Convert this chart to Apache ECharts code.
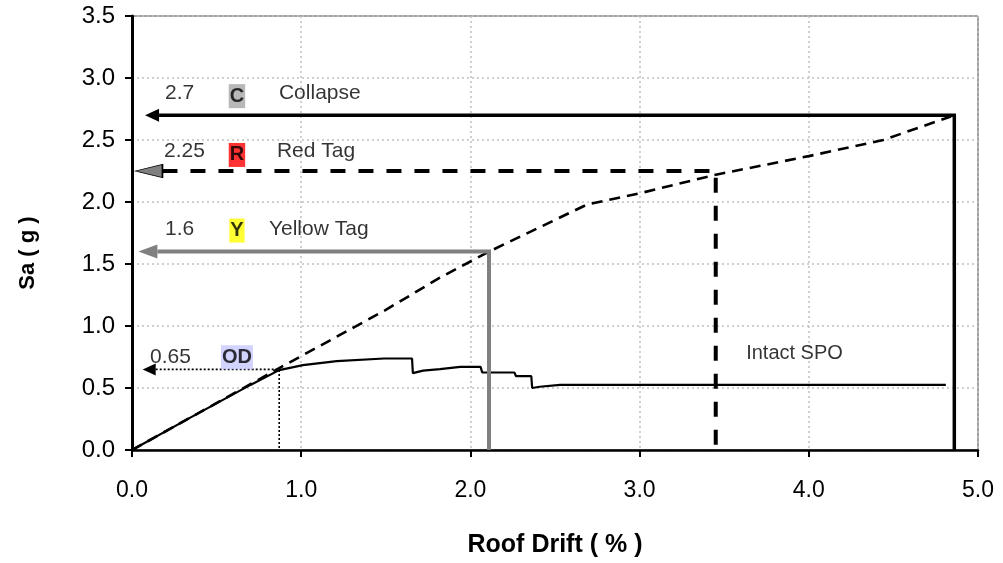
<!DOCTYPE html>
<html>
<head>
<meta charset="utf-8">
<script src="https://cdn.jsdelivr.net/npm/echarts@6/dist/echarts.min.js"></script>
<style>
  html, body { margin: 0; padding: 0; background: #ffffff; }
  #chart { width: 1003px; height: 563px; }
</style>
</head>
<body>
<div id="chart"></div>
<script>
// Axis ticks
const driftTicks = [0, 1, 2, 3, 4, 5];
const saTicks = [0, 0.5, 1, 1.5, 2, 2.5, 3, 3.5];

// Incremental dynamic analysis curve (dashed)
const idaDrift = [0, 0.87, 1.5, 1.82, 2.11, 2.69, 3.0, 3.45, 4.0, 4.44, 4.84];
const idaSa    = [0, 0.66, 1.13, 1.39, 1.6, 1.98, 2.07, 2.22, 2.37, 2.5, 2.69];

// Intact static pushover curve
const spoDrift = [0, 0.35, 0.7, 0.87, 1.01, 1.21, 1.49, 1.655, 1.66, 1.72, 1.82, 1.94, 2.06, 2.07, 2.26, 2.27, 2.36, 2.365, 2.41, 2.53, 4.81];
const spoSa    = [0, 0.265, 0.525, 0.644, 0.685, 0.717, 0.738, 0.738, 0.62, 0.64, 0.652, 0.67, 0.67, 0.625, 0.625, 0.595, 0.595, 0.5, 0.51, 0.525, 0.525];

// Performance levels
const levelTags   = ['OD', 'Y', 'R', 'C'];
const levelNames  = ['', 'Yellow Tag', 'Red Tag', 'Collapse'];
const levelSa     = [0.65, 1.6, 2.25, 2.7];
const levelDrift  = [0.87, 2.11, 3.45, 4.86];
const levelValueText = ['0.65', '1.6', '2.25', '2.7'];

// Drawing styles for each level
const levelStyle = [
  { color: '#000000', width: 1.6, type: [2, 2], head: '#000000', headBorder: '#000000', headSize: [13, 12], shaftEnd: 0.14, tagBg: '#c8c8ff', valueDx: 18, valueDy: -12, tagDy: -12, nameDx: 0 },
  { color: '#808080', width: 4, type: 'solid', head: '#808080', headBorder: '#808080', headSize: [19, 14], shaftEnd: 0.15, tagBg: '#ffff00', valueDx: 33, valueDy: -22, tagDy: -21, nameDx: 137 },
  { color: '#000000', width: 4, type: [15, 13], head: '#808080', headBorder: '#000000', headSize: [27, 13], shaftEnd: 0.18, tagBg: '#ff0000', valueDx: 32, valueDy: -20, tagDy: -16, nameDx: 145 },
  { color: '#000000', width: 3.5, type: 'solid', head: '#000000', headBorder: '#000000', headSize: [14, 13], shaftEnd: 0.16, tagBg: '#a6a6a6', valueDx: 33, valueDy: -22, tagDy: -19, nameDx: 147 }
];

const FONT = 'Liberation Sans, Arial, sans-serif';
const arrowPath = 'path://M0,5L10,0L10,10Z';

const zip = (xs, ys) => xs.map((x, i) => [x, ys[i]]);

const series = [];

series.push({
  name: 'IDA', type: 'line', data: zip(idaDrift, idaSa), showSymbol: false, symbol: 'none',
  lineStyle: { color: '#000', width: 2.6, type: [11, 7] }, z: 3, silent: true
});

series.push({
  name: 'Intact SPO', type: 'line', data: zip(spoDrift, spoSa), showSymbol: false, symbol: 'none',
  lineStyle: { color: '#000', width: 2.2 }, z: 4, silent: true
});

// Level arrows: horizontal shaft to the Sa axis plus a drop line to the drift axis
levelSa.forEach((sa, i) => {
  const st = levelStyle[i];
  series.push({
    type: 'line',
    data: [
      { value: [st.shaftEnd, sa], symbol: arrowPath, symbolSize: st.headSize, symbolOffset: [-st.headSize[0] / 2, 0],
        itemStyle: { color: st.head, borderColor: st.headBorder, borderWidth: st.head === st.headBorder ? 0 : 1.2 } },
      { value: [levelDrift[i], sa], symbol: 'none' },
      { value: [levelDrift[i], 0], symbol: 'none' }
    ],
    showSymbol: true, showAllSymbol: true,
    lineStyle: { color: st.color, width: st.width, type: st.type, join: 'miter', cap: 'butt' },
    z: 5 + i, silent: true, animation: false
  });
});

// Level value text, tag boxes and names
const labelBase = { symbolSize: 0.1, itemStyle: { color: 'transparent' }, silent: true };
series.push(Object.assign({
  type: 'scatter', z: 10,
  data: levelSa.map((sa, i) => ({
    value: [0, sa],
    label: { show: true, formatter: levelValueText[i], position: [levelStyle[i].valueDx, levelStyle[i].valueDy],
             align: 'left', verticalAlign: 'middle', fontFamily: FONT, fontSize: 21, color: '#000' }
  }))
}, labelBase));
series.push(Object.assign({
  type: 'scatter', z: 10,
  data: levelSa.map((sa, i) => ({
    value: [0, sa],
    label: { show: true, formatter: levelTags[i], position: [105, levelStyle[i].tagDy],
             align: 'center', verticalAlign: 'middle', fontFamily: FONT, fontSize: 20, fontWeight: 'bold', color: '#000',
             backgroundColor: levelStyle[i].tagBg, padding: [2, 1, 2, 1] }
  }))
}, labelBase));
series.push(Object.assign({
  type: 'scatter', z: 10,
  data: levelSa.map((sa, i) => ({
    value: [0, sa],
    label: { show: true, formatter: levelNames[i], position: [levelStyle[i].nameDx, levelStyle[i].valueDy],
             align: 'left', verticalAlign: 'middle', fontFamily: FONT, fontSize: 21, color: '#000' }
  }))
}, labelBase));
series.push(Object.assign({
  type: 'scatter', z: 10,
  data: [{ value: [3.63, 0.78],
    label: { show: true, formatter: 'Intact SPO', position: [0, 0], align: 'left', verticalAlign: 'middle',
             fontFamily: FONT, fontSize: 20, color: '#000' } }]
}, labelBase));

const gridLine = { show: true, lineStyle: { color: '#c0c0c0', width: 1.5, type: [2, 3] } };

const option = {
  animation: false,
  backgroundColor: '#ffffff',
  grid: { left: 132, right: 25, top: 16, bottom: 111, show: true, borderColor: '#444', borderWidth: 1, containLabel: false },
  xAxis: {
    type: 'value', min: driftTicks[0], max: driftTicks[driftTicks.length - 1], interval: 1,
    name: 'Roof Drift ( % )', nameLocation: 'middle', nameGap: 83,
    nameTextStyle: { fontFamily: FONT, fontSize: 25, fontWeight: 'bold', color: '#000' },
    axisLine: { show: true, onZero: false, lineStyle: { color: '#000', width: 2.5 } },
    axisTick: { show: true, inside: false, length: 7, lineStyle: { color: '#000', width: 2 } },
    axisLabel: { fontFamily: FONT, fontSize: 23, color: '#000', margin: 29, formatter: v => v.toFixed(1) },
    splitLine: gridLine
  },
  yAxis: {
    type: 'value', min: saTicks[0], max: saTicks[saTicks.length - 1], interval: 0.5,
    axisLine: { show: true, onZero: false, lineStyle: { color: '#000', width: 3 } },
    axisTick: { show: true, inside: false, length: 7, lineStyle: { color: '#000', width: 2 } },
    axisLabel: { fontFamily: FONT, fontSize: 24, color: '#000', margin: 17, formatter: v => v.toFixed(1) },
    splitLine: gridLine
  },
  graphic: [{
    type: 'text', x: 28, y: 253, rotation: Math.PI / 2,
    style: { text: 'Sa ( g )', fontFamily: FONT, fontSize: 22, fontWeight: 'bold', fill: '#000',
             align: 'center', verticalAlign: 'middle' }
  }],
  series: series
};

const chart = echarts.init(document.getElementById('chart'), null, { renderer: 'canvas' });
chart.setOption(option);
</script>
</body>
</html>
